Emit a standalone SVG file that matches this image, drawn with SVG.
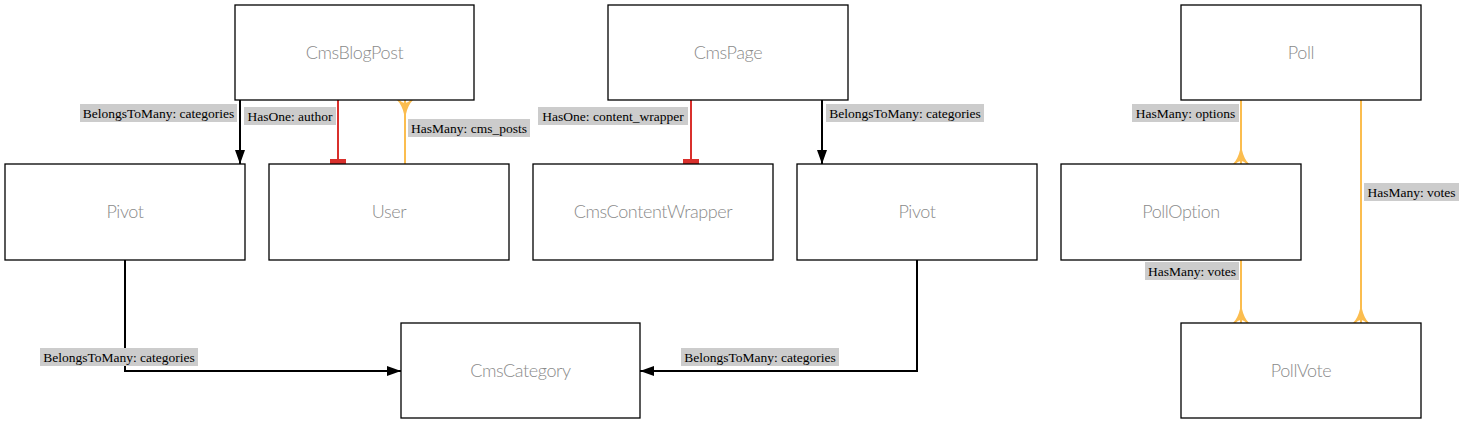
<svg xmlns="http://www.w3.org/2000/svg" width="1467" height="424" viewBox="0 0 1467 424">
<style>
.node rect{fill:#fff;stroke:#000;stroke-width:1.3}
.node text{font-family:Lato,"Open Sans","Liberation Sans",sans-serif;font-weight:300;font-size:18px;fill:#8a8a8a;text-anchor:middle;letter-spacing:-0.4px}
.lbl rect{fill:#cccccc}
.lbl text{font-family:"Liberation Serif","DejaVu Serif",serif;font-size:13.5px;fill:#000;text-anchor:middle}
.e{fill:none;stroke-width:2}
.blk{stroke:#000}
.red{stroke:#d9302c}
.org{stroke:#fbbd4f}
</style>
<defs>
<marker id="arr" markerUnits="userSpaceOnUse" viewBox="0 0 14 10" markerWidth="14" markerHeight="10" refX="14" refY="5" orient="auto"><path d="M0,0 L14,5 L0,10 z" fill="#000"/></marker>
<marker id="tee" markerUnits="userSpaceOnUse" viewBox="0 0 14 16" markerWidth="14" markerHeight="16" refX="14" refY="8" orient="auto"><rect x="9" y="0" width="5" height="16" fill="#d9302c"/></marker>
<marker id="crow" markerUnits="userSpaceOnUse" viewBox="0 0 14 18" markerWidth="14" markerHeight="18" refX="14" refY="9" orient="auto"><path d="M0,8 Q9,6 14,1 L14,3.5 Q10,7.5 12,9 Q10,10.5 14,14.5 L14,17 Q9,12 0,10 z" fill="#fbbd4f"/><path d="M0,9 H14" stroke="#fbbd4f" stroke-width="2"/></marker>
</defs>
<rect width="1467" height="424" fill="#fff"/>
<g id="connectors">
<path class="e blk" d="M240,100 V164" marker-end="url(#arr)"/>
<path class="e red" d="M338,100 V164" marker-end="url(#tee)"/>
<path class="e org" d="M405,164 V100" marker-end="url(#crow)"/>
<path class="e red" d="M691,100 V164" marker-end="url(#tee)"/>
<path class="e blk" d="M822,100 V164" marker-end="url(#arr)"/>
<path class="e org" d="M1241,100 V164" marker-end="url(#crow)"/>
<path class="e org" d="M1361,100 V323" marker-end="url(#crow)"/>
<path class="e org" d="M1241,260 V323" marker-end="url(#crow)"/>
<path class="e blk" d="M125,260 V371 H401" marker-end="url(#arr)"/>
<path class="e blk" d="M917,260 V371 H640" marker-end="url(#arr)"/>
<g class="lbl">
<rect x="80" y="104" width="157" height="18"/><text x="158.5" y="117.5">BelongsToMany: categories</text>
<rect x="244" y="107" width="92" height="18"/><text x="290" y="120.5">HasOne: author</text>
<rect x="408" y="119" width="122" height="18"/><text x="469" y="132.5">HasMany: cms_posts</text>
<rect x="538" y="107" width="150" height="18"/><text x="613" y="120.5">HasOne: content_wrapper</text>
<rect x="826" y="104" width="158" height="18"/><text x="905" y="117.5">BelongsToMany: categories</text>
<rect x="1132" y="104" width="107" height="18"/><text x="1185.5" y="117.5">HasMany: options</text>
<rect x="1364" y="183" width="95" height="18"/><text x="1411.5" y="196.5">HasMany: votes</text>
<rect x="1145" y="262" width="94" height="18"/><text x="1192" y="275.5">HasMany: votes</text>
<rect x="40" y="348" width="158" height="18"/><text x="119" y="361.5">BelongsToMany: categories</text>
<rect x="681" y="348" width="158" height="18"/><text x="760" y="361.5">BelongsToMany: categories</text>
</g>
</g>
<g id="CmsBlogPost" class="node"><rect x="235" y="5" width="239" height="95"/><text x="354.5" y="59">CmsBlogPost</text></g>
<g id="CmsPage" class="node"><rect x="608" y="5" width="240" height="95"/><text x="728" y="59">CmsPage</text></g>
<g id="Poll" class="node"><rect x="1181" y="5" width="240" height="95"/><text x="1301" y="59">Poll</text></g>
<g id="Pivot1" class="node"><rect x="5" y="164" width="240" height="96"/><text x="125" y="218">Pivot</text></g>
<g id="User" class="node"><rect x="269" y="164" width="240" height="96"/><text x="389" y="218">User</text></g>
<g id="CmsContentWrapper" class="node"><rect x="533" y="164" width="240" height="96"/><text x="653" y="218">CmsContentWrapper</text></g>
<g id="Pivot2" class="node"><rect x="797" y="164" width="240" height="96"/><text x="917" y="218">Pivot</text></g>
<g id="PollOption" class="node"><rect x="1061" y="164" width="240" height="96"/><text x="1181" y="218">PollOption</text></g>
<g id="CmsCategory" class="node"><rect x="401" y="323" width="239" height="95"/><text x="520.5" y="377">CmsCategory</text></g>
<g id="PollVote" class="node"><rect x="1181" y="323" width="240" height="95"/><text x="1301" y="377">PollVote</text></g>
</svg>
